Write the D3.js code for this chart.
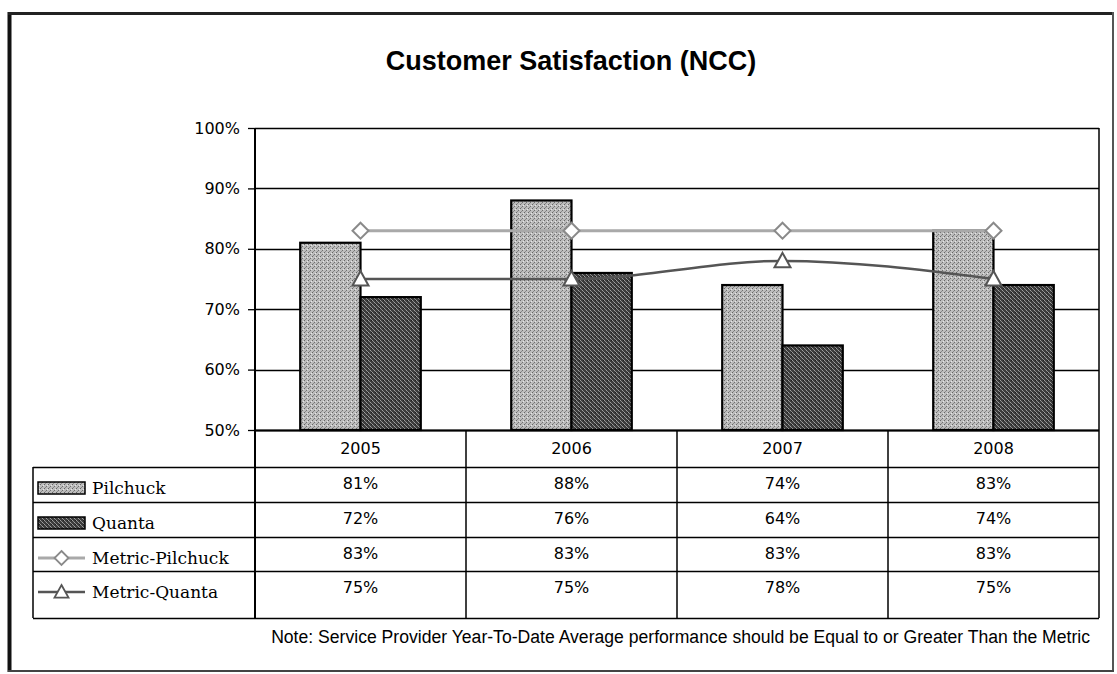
<!DOCTYPE html>
<html>
<head>
<meta charset="utf-8">
<script src="https://cdn.jsdelivr.net/npm/d3@7/dist/d3.min.js"></script>
<style>
  body { margin: 0; background: #fff; }
  svg { display: block; }
</style>
</head>
<body>
<div id="chart"></div>
<script>
// chart data
var categories = ["2005", "2006", "2007", "2008"];
var pilchuck = [81, 88, 74, 83];
var quanta = [72, 76, 64, 74];
var metricPilchuck = [83, 83, 83, 83];
var metricQuanta = [75, 75, 78, 75];
var yTicks = [50, 60, 70, 80, 90, 100];
var seriesNames = ["Pilchuck", "Quanta", "Metric-Pilchuck", "Metric-Quanta"];

var W = 1117, H = 674;
var plot = { left: 255, right: 1099, top: 128, bottom: 430 };
// table row boundaries (header row + one row per series)
var rowY = [430, 467, 502, 537, 571, 618];
var legendLeft = 33;

var svg = d3.select("#chart").append("svg")
    .attr("width", W)
    .attr("height", H);

// textures for the bars
var defs = svg.append("defs");
var pLight = defs.append("pattern").attr("id", "patLight")
    .attr("width", 4).attr("height", 4).attr("patternUnits", "userSpaceOnUse");
pLight.append("rect").attr("width", 4).attr("height", 4).attr("fill", "#bdbdbd");
pLight.append("rect").attr("x", 0).attr("y", 0).attr("width", 1).attr("height", 1).attr("fill", "#666");
pLight.append("rect").attr("x", 2).attr("y", 2).attr("width", 1).attr("height", 1).attr("fill", "#707070");
pLight.append("rect").attr("x", 1).attr("y", 3).attr("width", 1).attr("height", 1).attr("fill", "#8a8a8a");
pLight.append("rect").attr("x", 3).attr("y", 1).attr("width", 1).attr("height", 1).attr("fill", "#e6e6e6");

var pDark = defs.append("pattern").attr("id", "patDark")
    .attr("width", 4).attr("height", 4).attr("patternUnits", "userSpaceOnUse");
pDark.append("rect").attr("width", 4).attr("height", 4).attr("fill", "#3c3c3c");
pDark.append("rect").attr("x", 0).attr("y", 0).attr("width", 1).attr("height", 1).attr("fill", "#a0a0a0");
pDark.append("rect").attr("x", 1).attr("y", 1).attr("width", 1).attr("height", 1).attr("fill", "#8a8a8a");
pDark.append("rect").attr("x", 2).attr("y", 2).attr("width", 1).attr("height", 1).attr("fill", "#a0a0a0");
pDark.append("rect").attr("x", 3).attr("y", 3).attr("width", 1).attr("height", 1).attr("fill", "#8a8a8a");
pDark.append("rect").attr("x", 3).attr("y", 0).attr("width", 1).attr("height", 1).attr("fill", "#1e1e1e");

// outer frame
svg.append("line").attr("x1", 9.5).attr("x2", 9.5).attr("y1", 12).attr("y2", 672)
    .attr("stroke", "#111").attr("stroke-width", 4);
svg.append("line").attr("x1", 8).attr("x2", 1114).attr("y1", 13.5).attr("y2", 13.5)
    .attr("stroke", "#222").attr("stroke-width", 3);
svg.append("line").attr("x1", 1113).attr("x2", 1113).attr("y1", 12).attr("y2", 672)
    .attr("stroke", "#555").attr("stroke-width", 2);
svg.append("line").attr("x1", 8).attr("x2", 1114).attr("y1", 671).attr("y2", 671)
    .attr("stroke", "#444").attr("stroke-width", 2);

// title
svg.append("text")
    .attr("x", 571).attr("y", 70)
    .attr("text-anchor", "middle")
    .style("font-family", "'Liberation Sans', Arial, sans-serif")
    .style("font-weight", "bold")
    .style("font-size", "27px")
    .text("Customer Satisfaction (NCC)");

// scales
var x = d3.scaleBand().domain(categories).range([plot.left, plot.right]);
var y = d3.scaleLinear().domain([50, 100]).range([plot.bottom, plot.top]);
var barW = x.bandwidth() / 3.5;
var gap = (x.bandwidth() - 2 * barW) / 2;

// gridlines
svg.append("g").selectAll("line").data(yTicks).enter().append("line")
    .attr("x1", plot.left).attr("x2", plot.right)
    .attr("y1", function(d){ return Math.round(y(d)) + 0.5; })
    .attr("y2", function(d){ return Math.round(y(d)) + 0.5; })
    .attr("stroke", "#000").attr("stroke-width", 1.3);

// right border of the plot area
svg.append("line").attr("x1", plot.right).attr("x2", plot.right)
    .attr("y1", plot.top).attr("y2", plot.bottom)
    .attr("stroke", "#000").attr("stroke-width", 1.5);

// y axis
var yAxis = svg.append("g")
    .attr("transform", "translate(" + plot.left + ",0)")
    .call(d3.axisLeft(y).tickValues(yTicks).tickSize(7).tickPadding(8)
        .tickFormat(function(d){ return d + "%"; }));
yAxis.select(".domain").remove();
yAxis.selectAll(".tick line").attr("stroke", "#000").attr("stroke-width", 1.3);
yAxis.selectAll(".tick text")
    .style("font-family", "'DejaVu Sans', Verdana, sans-serif")
    .style("font-size", "16px")
    .attr("fill", "#000");

// bars
var barData = [];
categories.forEach(function(c, i){
    barData.push({ cat: c, k: 0, v: pilchuck[i] });
    barData.push({ cat: c, k: 1, v: quanta[i] });
});
svg.append("g").selectAll("rect").data(barData).enter().append("rect")
    .attr("x", function(d){ return x(d.cat) + gap + d.k * barW; })
    .attr("y", function(d){ return y(d.v); })
    .attr("width", barW)
    .attr("height", function(d){ return y(50) - y(d.v); })
    .attr("fill", function(d){ return d.k == 0 ? "url(#patLight)" : "url(#patDark)"; })
    .attr("stroke", "#000").attr("stroke-width", 2.2);

// metric lines
var cx = function(i){ return x(categories[i]) + x.bandwidth() / 2; };

var lineMP = d3.line().x(function(d, i){ return cx(i); }).y(function(d){ return y(d); });
var lineMQ = d3.line().x(function(d, i){ return cx(i); }).y(function(d){ return y(d); })
    .curve(d3.curveMonotoneX);

svg.append("path").datum(metricPilchuck)
    .attr("d", lineMP).attr("fill", "none")
    .attr("stroke", "#a9a9a9").attr("stroke-width", 3);
svg.append("path").datum(metricQuanta)
    .attr("d", lineMQ).attr("fill", "none")
    .attr("stroke", "#555").attr("stroke-width", 2.5);

function diamond(s){ return "M0," + (-s) + "L" + s + ",0L0," + s + "L" + (-s) + ",0Z"; }
function triangle(s){ return "M0," + (-s) + "L" + s + "," + (s * 0.8) + "L" + (-s) + "," + (s * 0.8) + "Z"; }

svg.append("g").selectAll("path").data(metricPilchuck).enter().append("path")
    .attr("transform", function(d, i){ return "translate(" + cx(i) + "," + y(d) + ")"; })
    .attr("d", diamond(8))
    .attr("fill", "#fff").attr("stroke", "#8a8a8a").attr("stroke-width", 2);
svg.append("g").selectAll("path").data(metricQuanta).enter().append("path")
    .attr("transform", function(d, i){ return "translate(" + cx(i) + "," + y(d) + ")"; })
    .attr("d", triangle(8))
    .attr("fill", "#fff").attr("stroke", "#555").attr("stroke-width", 2);

// data table
var tbl = svg.append("g");
var tStroke = "#000";
// vertical lines
tbl.append("line").attr("x1", plot.left).attr("x2", plot.left)
    .attr("y1", plot.top).attr("y2", rowY[5]).attr("stroke", tStroke).attr("stroke-width", 2);
categories.forEach(function(c){
    var xx = x(c) + x.bandwidth();
    tbl.append("line").attr("x1", xx).attr("x2", xx)
        .attr("y1", rowY[0]).attr("y2", rowY[5]).attr("stroke", tStroke).attr("stroke-width", 1.5);
});
tbl.append("line").attr("x1", legendLeft).attr("x2", legendLeft)
    .attr("y1", rowY[1]).attr("y2", rowY[5]).attr("stroke", tStroke).attr("stroke-width", 1.5);
// horizontal lines
rowY.forEach(function(yy, i){
    tbl.append("line")
        .attr("x1", i == 0 ? plot.left : legendLeft).attr("x2", plot.right)
        .attr("y1", yy + 0.5).attr("y2", yy + 0.5)
        .attr("stroke", tStroke).attr("stroke-width", i == 0 ? 2 : 1.5);
});

var cellFont = "'DejaVu Sans', Verdana, sans-serif";
// year headers
tbl.selectAll(".yr").data(categories).enter().append("text")
    .attr("x", function(d){ return x(d) + x.bandwidth() / 2; })
    .attr("y", rowY[0] + 24)
    .attr("text-anchor", "middle")
    .style("font-family", cellFont).style("font-size", "16px")
    .text(function(d){ return d; });

var rows = [pilchuck, quanta, metricPilchuck, metricQuanta];
rows.forEach(function(vals, r){
    tbl.append("g").selectAll("text").data(vals).enter().append("text")
        .attr("x", function(d, i){ return cx(i); })
        .attr("y", rowY[r + 1] + 22)
        .attr("text-anchor", "middle")
        .style("font-family", cellFont).style("font-size", "16px")
        .text(function(d){ return d + "%"; });

    // legend label
    tbl.append("text")
        .attr("x", 92).attr("y", rowY[r + 1] + 27)
        .style("font-family", "'DejaVu Serif', serif").style("font-size", "17px")
        .text(seriesNames[r]);

    // legend key
    var ky = rowY[r + 1] + 21;
    if (r < 2) {
        tbl.append("rect").attr("x", 38).attr("y", ky - 6).attr("width", 47).attr("height", 12)
            .attr("fill", r == 0 ? "url(#patLight)" : "url(#patDark)")
            .attr("stroke", "#000").attr("stroke-width", 1.5);
    } else {
        tbl.append("line").attr("x1", 38).attr("x2", 85).attr("y1", ky).attr("y2", ky)
            .attr("stroke", r == 2 ? "#a9a9a9" : "#555").attr("stroke-width", r == 2 ? 3 : 2.5);
        tbl.append("path").attr("transform", "translate(61.5," + ky + ")")
            .attr("d", r == 2 ? diamond(7) : triangle(7))
            .attr("fill", "#fff").attr("stroke", r == 2 ? "#8a8a8a" : "#555").attr("stroke-width", 1.8);
    }
});

// footnote
svg.append("text")
    .attr("x", 1090).attr("y", 643)
    .attr("text-anchor", "end")
    .style("font-family", "'Liberation Sans', Arial, sans-serif")
    .style("font-size", "17.6px")
    .text("Note: Service Provider Year-To-Date Average performance should be Equal to or Greater Than the Metric");
</script>
</body>
</html>
